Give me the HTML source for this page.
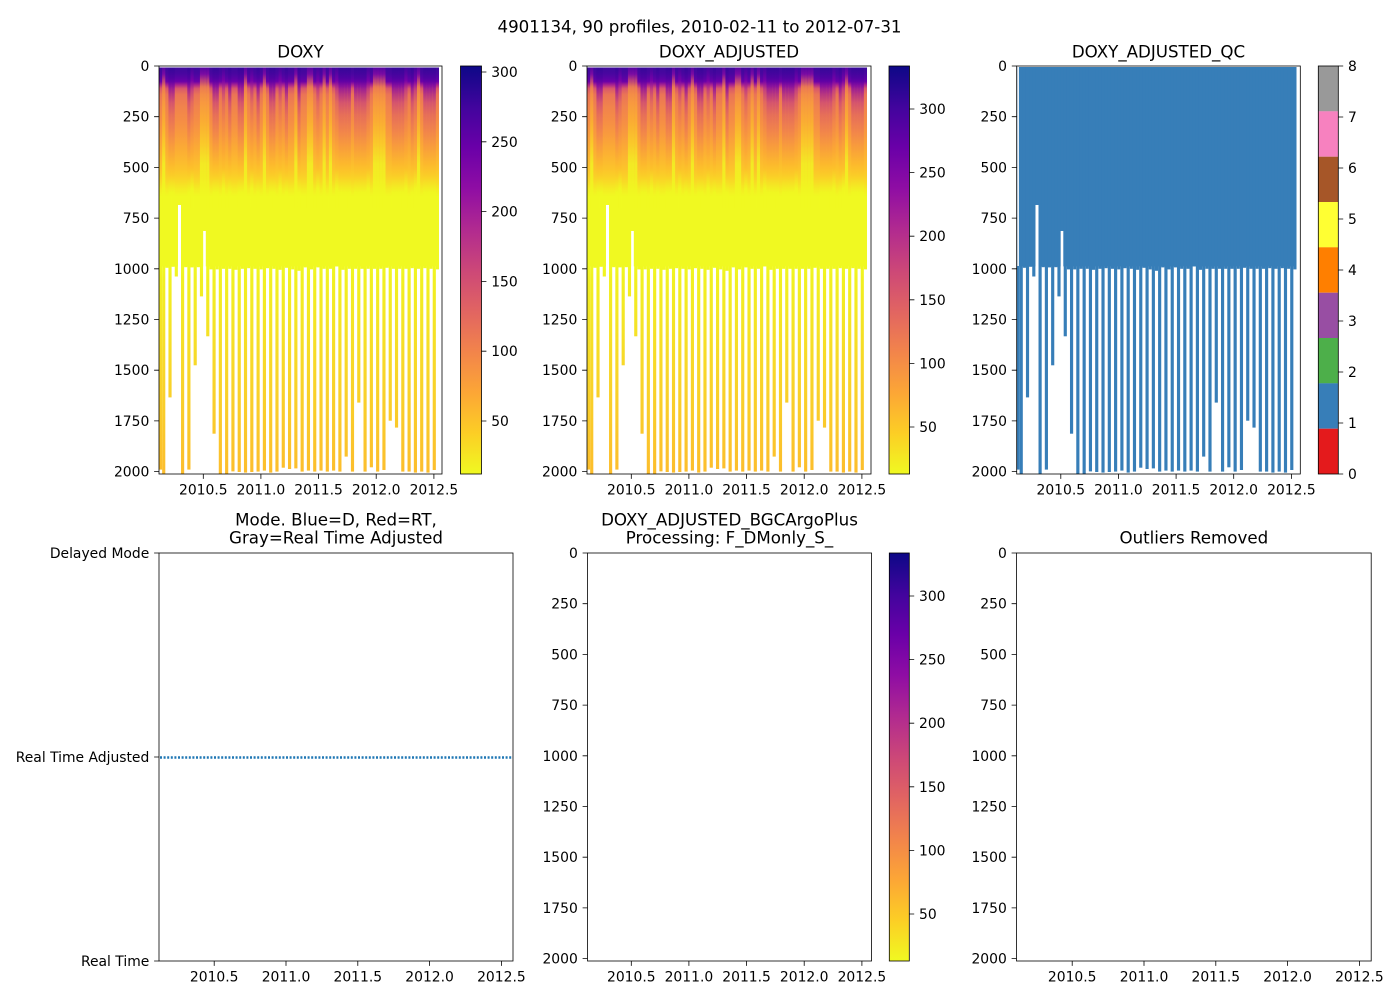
<!DOCTYPE html>
<html><head><meta charset="utf-8"><style>
html,body{margin:0;padding:0;background:#fff}
svg{display:block}
text{font-family:"DejaVu Sans","Liberation Sans",sans-serif;fill:#000}
.t{font-size:13.9px}
.h{font-size:16.67px}
</style></head><body>
<svg width="1400" height="1000" viewBox="0 0 1400 1000" xmlns="http://www.w3.org/2000/svg" xmlns:xlink="http://www.w3.org/1999/xlink">
<defs>
<linearGradient id="gA" gradientUnits="userSpaceOnUse" x1="0" y1="66" x2="0" y2="474">
<stop offset="0" stop-color="#3a0a9b"/><stop offset="0.02" stop-color="#4a06a0"/><stop offset="0.038" stop-color="#6a00a8"/>
<stop offset="0.046" stop-color="#a8238f"/><stop offset="0.055" stop-color="#d9576b"/><stop offset="0.07" stop-color="#ea7456"/>
<stop offset="0.10" stop-color="#f1834c"/><stop offset="0.14" stop-color="#f68f44"/><stop offset="0.17" stop-color="#f99c3d"/>
<stop offset="0.20" stop-color="#fbaa35"/><stop offset="0.225" stop-color="#fcb631"/><stop offset="0.255" stop-color="#fcc52a"/>
<stop offset="0.28" stop-color="#f9d726"/><stop offset="0.30" stop-color="#f4eb23"/><stop offset="0.32" stop-color="#f0f921"/>
<stop offset="0.49" stop-color="#f0f921"/><stop offset="0.52" stop-color="#f1f121"/>
<stop offset="0.75" stop-color="#f8d629"/><stop offset="1" stop-color="#fcbd2c"/>
</linearGradient>
<linearGradient id="gB" gradientUnits="userSpaceOnUse" x1="0" y1="66" x2="0" y2="474">
<stop offset="0" stop-color="#2f0996"/><stop offset="0.03" stop-color="#4f02a2"/><stop offset="0.05" stop-color="#7a05a6"/>
<stop offset="0.07" stop-color="#a8238f"/><stop offset="0.09" stop-color="#cc4778"/><stop offset="0.12" stop-color="#e2665f"/>
<stop offset="0.16" stop-color="#ef7e50"/><stop offset="0.20" stop-color="#f89a3e"/><stop offset="0.24" stop-color="#fcb72d"/>
<stop offset="0.27" stop-color="#fbce27"/><stop offset="0.29" stop-color="#f5e624"/><stop offset="0.31" stop-color="#f0f921"/>
<stop offset="1" stop-color="#f0f921"/>
</linearGradient>
<linearGradient id="gC" gradientUnits="userSpaceOnUse" x1="0" y1="66" x2="0" y2="474">
<stop offset="0" stop-color="#5402a3"/><stop offset="0.02" stop-color="#8d0da4"/><stop offset="0.035" stop-color="#d35271"/>
<stop offset="0.05" stop-color="#f48a47"/><stop offset="0.09" stop-color="#fba33a"/><stop offset="0.14" stop-color="#fcba2c"/>
<stop offset="0.19" stop-color="#fad626"/><stop offset="0.24" stop-color="#f0f921"/><stop offset="1" stop-color="#f0f921"/>
</linearGradient>
<linearGradient id="gD" gradientUnits="userSpaceOnUse" x1="0" y1="66" x2="0" y2="474">
<stop offset="0" stop-color="#41049d"/><stop offset="0.035" stop-color="#7e03a8"/><stop offset="0.06" stop-color="#c03a83"/>
<stop offset="0.09" stop-color="#e16462"/><stop offset="0.14" stop-color="#f2844b"/><stop offset="0.20" stop-color="#fba238"/>
<stop offset="0.25" stop-color="#fcc02a"/><stop offset="0.28" stop-color="#f6e524"/><stop offset="0.30" stop-color="#f0f921"/>
<stop offset="1" stop-color="#f0f921"/>
</linearGradient>
<linearGradient id="cb" x1="0" y1="0" x2="0" y2="1">
<stop offset="0" stop-color="#0d0887"/><stop offset="0.1" stop-color="#41049d"/><stop offset="0.2" stop-color="#6a00a8"/>
<stop offset="0.3" stop-color="#8f0da4"/><stop offset="0.4" stop-color="#b12a90"/><stop offset="0.5" stop-color="#cc4778"/>
<stop offset="0.6" stop-color="#e16462"/><stop offset="0.7" stop-color="#f2844b"/><stop offset="0.8" stop-color="#fca636"/>
<stop offset="0.9" stop-color="#fcce25"/><stop offset="1" stop-color="#f0f921"/>
</linearGradient>
<g id="bg">
<rect x="159" y="66" width="280" height="138.9"/>
<rect x="159" y="204" width="18.95" height="62.4"/>
<rect x="181.02" y="204" width="25.5" height="26.9"/>
<rect x="181.02" y="230" width="22.1" height="36.4"/>
<rect x="205.8" y="204" width="233.2" height="62.4"/>
</g>
<g id="shape">
<rect x="159" y="66" width="3.16" height="403.6"/><rect x="162.15" y="66" width="3.16" height="408"/>
<rect x="165.29" y="66" width="3.16" height="201.8"/><rect x="168.44" y="66" width="3.16" height="331.4"/>
<rect x="171.58" y="66" width="3.16" height="200.8"/><rect x="174.73" y="66" width="3.16" height="210.5"/>
<rect x="177.88" y="66" width="3.16" height="138.9"/><rect x="181.02" y="66" width="3.16" height="408"/>
<rect x="184.17" y="66" width="3.16" height="201.2"/><rect x="187.31" y="66" width="3.16" height="403.6"/>
<rect x="190.46" y="66" width="3.16" height="201.4"/><rect x="193.61" y="66" width="3.16" height="299.3"/>
<rect x="196.75" y="66" width="3.16" height="201.2"/><rect x="199.9" y="66" width="3.16" height="230.4"/>
<rect x="203.04" y="66" width="3.16" height="164.9"/><rect x="206.19" y="66" width="3.16" height="270.3"/>
<rect x="209.34" y="66" width="3.16" height="203.4"/><rect x="212.48" y="66" width="3.16" height="367.7"/>
<rect x="215.63" y="66" width="3.16" height="203.4"/><rect x="218.77" y="66" width="3.16" height="408"/>
<rect x="221.92" y="66" width="3.16" height="202.8"/><rect x="225.07" y="66" width="3.16" height="408"/>
<rect x="228.21" y="66" width="3.16" height="202.8"/><rect x="231.36" y="66" width="3.16" height="405.4"/>
<rect x="234.5" y="66" width="3.16" height="203.8"/><rect x="237.65" y="66" width="3.16" height="406"/>
<rect x="240.8" y="66" width="3.16" height="202.8"/><rect x="243.94" y="66" width="3.16" height="406.6"/>
<rect x="247.09" y="66" width="3.16" height="202.2"/><rect x="250.23" y="66" width="3.16" height="406"/>
<rect x="253.38" y="66" width="3.16" height="202.8"/><rect x="256.53" y="66" width="3.16" height="405.6"/>
<rect x="259.67" y="66" width="3.16" height="203.4"/><rect x="262.82" y="66" width="3.16" height="404.6"/>
<rect x="265.96" y="66" width="3.16" height="202.2"/><rect x="269.11" y="66" width="3.16" height="406.6"/>
<rect x="272.26" y="66" width="3.16" height="202.8"/><rect x="275.4" y="66" width="3.16" height="405.6"/>
<rect x="278.55" y="66" width="3.16" height="203.8"/><rect x="281.69" y="66" width="3.16" height="401.7"/>
<rect x="284.84" y="66" width="3.16" height="201.8"/><rect x="287.99" y="66" width="3.16" height="403"/>
<rect x="291.13" y="66" width="3.16" height="203.4"/><rect x="294.28" y="66" width="3.16" height="402.4"/>
<rect x="297.42" y="66" width="3.16" height="204.8"/><rect x="300.57" y="66" width="3.16" height="405.6"/>
<rect x="303.72" y="66" width="3.16" height="201.4"/><rect x="306.86" y="66" width="3.16" height="404.6"/>
<rect x="310.01" y="66" width="3.16" height="203.4"/><rect x="313.15" y="66" width="3.16" height="405.6"/>
<rect x="316.3" y="66" width="3.16" height="201.4"/><rect x="319.45" y="66" width="3.16" height="404.6"/>
<rect x="322.59" y="66" width="3.16" height="202.8"/><rect x="325.74" y="66" width="3.16" height="405.6"/>
<rect x="328.88" y="66" width="3.16" height="202.8"/><rect x="332.03" y="66" width="3.16" height="404.6"/>
<rect x="335.18" y="66" width="3.16" height="200.4"/><rect x="338.32" y="66" width="3.16" height="405.6"/>
<rect x="341.47" y="66" width="3.16" height="203.8"/><rect x="344.61" y="66" width="3.16" height="390.6"/>
<rect x="347.76" y="66" width="3.16" height="202.8"/><rect x="350.91" y="66" width="3.16" height="405.6"/>
<rect x="354.05" y="66" width="3.16" height="202.8"/><rect x="357.2" y="66" width="3.16" height="336.6"/>
<rect x="360.34" y="66" width="3.16" height="202.8"/><rect x="363.49" y="66" width="3.16" height="405.6"/>
<rect x="366.64" y="66" width="3.16" height="202.8"/><rect x="369.78" y="66" width="3.16" height="401.3"/>
<rect x="372.93" y="66" width="3.16" height="202.8"/><rect x="376.07" y="66" width="3.16" height="405.6"/>
<rect x="379.22" y="66" width="3.16" height="202.8"/><rect x="382.37" y="66" width="3.16" height="404"/>
<rect x="385.51" y="66" width="3.16" height="201.8"/><rect x="388.66" y="66" width="3.16" height="354.7"/>
<rect x="391.8" y="66" width="3.16" height="202.8"/><rect x="394.95" y="66" width="3.16" height="361.6"/>
<rect x="398.1" y="66" width="3.16" height="202.8"/><rect x="401.24" y="66" width="3.16" height="405.6"/>
<rect x="404.39" y="66" width="3.16" height="202.8"/><rect x="407.53" y="66" width="3.16" height="405.6"/>
<rect x="410.68" y="66" width="3.16" height="202.2"/><rect x="413.83" y="66" width="3.16" height="406.6"/>
<rect x="416.97" y="66" width="3.16" height="202.8"/><rect x="420.12" y="66" width="3.16" height="405.6"/>
<rect x="423.26" y="66" width="3.16" height="202.2"/><rect x="426.41" y="66" width="3.16" height="406.6"/>
<rect x="429.56" y="66" width="3.16" height="202.8"/><rect x="432.7" y="66" width="3.16" height="404"/>
<rect x="435.85" y="66" width="3.16" height="203.4"/>
</g>
<g id="tex" opacity="0.75">
<g fill="url(#gB)">
<rect x="168.44" y="66" width="3.16" height="142"/><rect x="171.58" y="66" width="3.16" height="142"/>
<rect x="187.31" y="66" width="3.16" height="142"/><rect x="212.48" y="66" width="3.16" height="142"/>
<rect x="215.63" y="66" width="3.16" height="142"/><rect x="228.21" y="66" width="3.16" height="142"/>
<rect x="237.65" y="66" width="3.16" height="142"/><rect x="240.8" y="66" width="3.16" height="142"/>
<rect x="256.53" y="66" width="3.16" height="142"/><rect x="269.11" y="66" width="3.16" height="142"/>
<rect x="272.26" y="66" width="3.16" height="142"/><rect x="284.84" y="66" width="3.16" height="142"/>
<rect x="297.42" y="66" width="3.16" height="142"/><rect x="338.32" y="66" width="3.16" height="142"/>
<rect x="341.47" y="66" width="3.16" height="142"/><rect x="344.61" y="66" width="3.16" height="142"/>
<rect x="347.76" y="66" width="3.16" height="142"/><rect x="354.05" y="66" width="3.16" height="142"/>
<rect x="357.2" y="66" width="3.16" height="142"/><rect x="360.34" y="66" width="3.16" height="142"/>
<rect x="363.49" y="66" width="3.16" height="142"/><rect x="391.8" y="66" width="3.16" height="142"/>
<rect x="394.95" y="66" width="3.16" height="142"/><rect x="398.1" y="66" width="3.16" height="142"/>
<rect x="401.24" y="66" width="3.16" height="142"/><rect x="410.68" y="66" width="3.16" height="142"/>
<rect x="423.26" y="66" width="3.16" height="142"/><rect x="426.41" y="66" width="3.16" height="142"/>
<rect x="429.56" y="66" width="3.16" height="142"/><rect x="432.7" y="66" width="3.16" height="142"/>
</g>
<g fill="url(#gC)">
<rect x="162.15" y="66" width="3.16" height="142"/><rect x="199.9" y="66" width="3.16" height="142"/>
<rect x="203.04" y="66" width="3.16" height="142"/><rect x="206.19" y="66" width="3.16" height="142"/>
<rect x="243.94" y="66" width="3.16" height="142"/><rect x="262.82" y="66" width="3.16" height="142"/>
<rect x="294.28" y="66" width="3.16" height="142"/><rect x="306.86" y="66" width="3.16" height="142"/>
<rect x="310.01" y="66" width="3.16" height="142"/><rect x="322.59" y="66" width="3.16" height="142"/>
<rect x="328.88" y="66" width="3.16" height="142"/><rect x="372.93" y="66" width="3.16" height="142"/>
<rect x="376.07" y="66" width="3.16" height="142"/><rect x="379.22" y="66" width="3.16" height="142"/>
<rect x="382.37" y="66" width="3.16" height="142"/><rect x="416.97" y="66" width="3.16" height="142"/>
</g>
<g fill="url(#gD)">
<rect x="190.46" y="66" width="3.16" height="142"/><rect x="221.92" y="66" width="3.16" height="142"/>
<rect x="250.23" y="66" width="3.16" height="142"/><rect x="278.55" y="66" width="3.16" height="142"/>
<rect x="316.3" y="66" width="3.16" height="142"/><rect x="335.18" y="66" width="3.16" height="142"/>
<rect x="366.64" y="66" width="3.16" height="142"/><rect x="404.39" y="66" width="3.16" height="142"/>
<rect x="413.83" y="66" width="3.16" height="142"/>
</g>
</g>
</defs>

<!-- suptitle -->
<text class="h" x="699.5" y="32.5" text-anchor="middle">4901134, 90 profiles, 2010-02-11 to 2012-07-31</text>

<!-- ===== Panel 1: DOXY ===== -->
<text class="h" x="300.5" y="57.5" text-anchor="middle">DOXY</text>
<use xlink:href="#bg" fill="url(#gA)"/>
<use xlink:href="#shape" fill="url(#gA)"/>
<use xlink:href="#tex"/>
<rect x="159" y="66" width="280" height="1.5" fill="#fff"/>
<rect x="159" y="66" width="283" height="408" fill="none" stroke="#000" stroke-width="0.8"/>

<!-- Panel 2: DOXY_ADJUSTED -->
<text class="h" x="729" y="57.5" text-anchor="middle">DOXY_ADJUSTED</text>
<g transform="translate(428,0)">
<use xlink:href="#bg" fill="url(#gA)"/>
<use xlink:href="#shape" fill="url(#gA)"/>
<use xlink:href="#tex"/>
<rect x="159" y="66" width="280" height="1.5" fill="#fff"/>
</g>
<rect x="587" y="66" width="284" height="408" fill="none" stroke="#000" stroke-width="0.8"/>

<!-- Panel 3: QC -->
<text class="h" x="1158.5" y="57.5" text-anchor="middle">DOXY_ADJUSTED_QC</text>
<g transform="translate(857.5,0)" fill="#377eb8">
<use xlink:href="#bg"/>
<use xlink:href="#shape"/>
<rect x="159" y="66" width="280" height="1" fill="#fff"/>
</g>
<rect x="1017.3" y="66" width="1.6" height="200" fill="#fff"/>
<rect x="1016.7" y="66" width="283.6" height="408" fill="none" stroke="#000" stroke-width="0.8"/>

<!-- y ticks top row -->
<g stroke="#000" stroke-width="0.8">
<path d="M154.1 66H159M154.1 116.7H159M154.1 167.4H159M154.1 218.1H159M154.1 268.8H159M154.1 319.5H159M154.1 370.2H159M154.1 420.9H159M154.1 471.6H159"/>
<path d="M582.1 66H587M582.1 116.7H587M582.1 167.4H587M582.1 218.1H587M582.1 268.8H587M582.1 319.5H587M582.1 370.2H587M582.1 420.9H587M582.1 471.6H587"/>
<path d="M1011.8 66H1016.7M1011.8 116.7H1016.7M1011.8 167.4H1016.7M1011.8 218.1H1016.7M1011.8 268.8H1016.7M1011.8 319.5H1016.7M1011.8 370.2H1016.7M1011.8 420.9H1016.7M1011.8 471.6H1016.7"/>
<path d="M203.3 474V478.9M260.9 474V478.9M318.6 474V478.9M376.2 474V478.9M433.9 474V478.9"/>
<path d="M631.3 474V478.9M688.9 474V478.9M746.6 474V478.9M804.2 474V478.9M861.9 474V478.9"/>
<path d="M1060.8 474V478.9M1118.4 474V478.9M1176.1 474V478.9M1233.7 474V478.9M1291.4 474V478.9"/>
</g>
<g text-anchor="end">
<text class="t" x="149.3" y="71">0</text><text class="t" x="149.3" y="121.7">250</text><text class="t" x="149.3" y="172.4">500</text>
<text class="t" x="149.3" y="223.1">750</text><text class="t" x="149.3" y="273.8">1000</text><text class="t" x="149.3" y="324.5">1250</text>
<text class="t" x="149.3" y="375.2">1500</text><text class="t" x="149.3" y="425.9">1750</text><text class="t" x="149.3" y="476.6">2000</text>
<text class="t" x="577.3" y="71">0</text><text class="t" x="577.3" y="121.7">250</text><text class="t" x="577.3" y="172.4">500</text>
<text class="t" x="577.3" y="223.1">750</text><text class="t" x="577.3" y="273.8">1000</text><text class="t" x="577.3" y="324.5">1250</text>
<text class="t" x="577.3" y="375.2">1500</text><text class="t" x="577.3" y="425.9">1750</text><text class="t" x="577.3" y="476.6">2000</text>
<text class="t" x="1007" y="71">0</text><text class="t" x="1007" y="121.7">250</text><text class="t" x="1007" y="172.4">500</text>
<text class="t" x="1007" y="223.1">750</text><text class="t" x="1007" y="273.8">1000</text><text class="t" x="1007" y="324.5">1250</text>
<text class="t" x="1007" y="375.2">1500</text><text class="t" x="1007" y="425.9">1750</text><text class="t" x="1007" y="476.6">2000</text>
</g>
<g text-anchor="middle">
<text class="t" x="203.3" y="494.5">2010.5</text><text class="t" x="260.9" y="494.5">2011.0</text><text class="t" x="318.6" y="494.5">2011.5</text><text class="t" x="376.2" y="494.5">2012.0</text><text class="t" x="433.9" y="494.5">2012.5</text>
<text class="t" x="631.3" y="494.5">2010.5</text><text class="t" x="688.9" y="494.5">2011.0</text><text class="t" x="746.6" y="494.5">2011.5</text><text class="t" x="804.2" y="494.5">2012.0</text><text class="t" x="861.9" y="494.5">2012.5</text>
<text class="t" x="1060.8" y="494.5">2010.5</text><text class="t" x="1118.4" y="494.5">2011.0</text><text class="t" x="1176.1" y="494.5">2011.5</text><text class="t" x="1233.7" y="494.5">2012.0</text><text class="t" x="1291.4" y="494.5">2012.5</text>
</g>

<!-- colorbar 1 -->
<rect x="460.5" y="66" width="21" height="408" fill="url(#cb)" stroke="#000" stroke-width="0.8"/>
<path stroke="#000" stroke-width="0.8" d="M481.5 72H486.4M481.5 141.8H486.4M481.5 211.6H486.4M481.5 281.4H486.4M481.5 351.2H486.4M481.5 421H486.4"/>
<text class="t" x="491.2" y="77">300</text><text class="t" x="491.2" y="146.8">250</text><text class="t" x="491.2" y="216.6">200</text>
<text class="t" x="491.2" y="286.4">150</text><text class="t" x="491.2" y="356.2">100</text><text class="t" x="491.2" y="426">50</text>

<!-- colorbar 2 -->
<rect x="889" y="66" width="20.5" height="408" fill="url(#cb)" stroke="#000" stroke-width="0.8"/>
<path stroke="#000" stroke-width="0.8" d="M909.5 109H914.4M909.5 172.6H914.4M909.5 236.2H914.4M909.5 299.8H914.4M909.5 363.4H914.4M909.5 427H914.4"/>
<text class="t" x="919.2" y="114">300</text><text class="t" x="919.2" y="177.6">250</text><text class="t" x="919.2" y="241.2">200</text>
<text class="t" x="919.2" y="304.8">150</text><text class="t" x="919.2" y="368.4">100</text><text class="t" x="919.2" y="432">50</text>

<!-- colorbar 3 (QC) -->
<rect x="1318.3" y="66" width="20" height="45.4" fill="#999999"/>
<rect x="1318.3" y="111.3" width="20" height="45.4" fill="#f781bf"/>
<rect x="1318.3" y="156.7" width="20" height="45.4" fill="#a65628"/>
<rect x="1318.3" y="202" width="20" height="45.4" fill="#ffff33"/>
<rect x="1318.3" y="247.3" width="20" height="45.4" fill="#ff7f00"/>
<rect x="1318.3" y="292.7" width="20" height="45.4" fill="#984ea3"/>
<rect x="1318.3" y="338" width="20" height="45.4" fill="#4daf4a"/>
<rect x="1318.3" y="383.3" width="20" height="45.4" fill="#377eb8"/>
<rect x="1318.3" y="428.7" width="20" height="45.3" fill="#e41a1c"/>
<rect x="1318.3" y="66" width="20" height="408" fill="none" stroke="#000" stroke-width="0.8"/>
<path stroke="#000" stroke-width="0.8" d="M1338.3 66H1343.2M1338.3 117H1343.2M1338.3 168H1343.2M1338.3 219H1343.2M1338.3 270H1343.2M1338.3 321H1343.2M1338.3 372H1343.2M1338.3 423H1343.2M1338.3 474H1343.2"/>
<text class="t" x="1348" y="71">8</text><text class="t" x="1348" y="122">7</text><text class="t" x="1348" y="173">6</text>
<text class="t" x="1348" y="224">5</text><text class="t" x="1348" y="275">4</text><text class="t" x="1348" y="326">3</text>
<text class="t" x="1348" y="377">2</text><text class="t" x="1348" y="428">1</text><text class="t" x="1348" y="479">0</text>

<!-- ===== Bottom row ===== -->
<!-- Panel 4 -->
<text class="h" x="336" y="525.5" text-anchor="middle">Mode. Blue=D, Red=RT,</text>
<text class="h" x="336" y="543.5" text-anchor="middle">Gray=Real Time Adjusted</text>
<line x1="160" y1="757.5" x2="513" y2="757.5" stroke="#1f77b4" stroke-width="2.6" stroke-dasharray="2 1.6"/>
<rect x="159" y="553" width="354" height="408" fill="none" stroke="#000" stroke-width="0.8"/>
<path stroke="#000" stroke-width="0.8" d="M154.1 553H159M154.1 757H159M154.1 961H159M214.2 961V965.9M286 961V965.9M357.8 961V965.9M429.6 961V965.9M501.4 961V965.9"/>
<g text-anchor="end">
<text class="t" x="149.3" y="558">Delayed Mode</text>
<text class="t" x="149.3" y="762">Real Time Adjusted</text>
<text class="t" x="149.3" y="966">Real Time</text>
</g>
<g text-anchor="middle">
<text class="t" x="214.2" y="981.5">2010.5</text><text class="t" x="286" y="981.5">2011.0</text><text class="t" x="357.8" y="981.5">2011.5</text><text class="t" x="429.6" y="981.5">2012.0</text><text class="t" x="501.4" y="981.5">2012.5</text>
</g>

<!-- Panel 5 -->
<text class="h" x="729.5" y="525.5" text-anchor="middle">DOXY_ADJUSTED_BGCArgoPlus</text>
<text class="h" x="729.5" y="543.5" text-anchor="middle">Processing: F_DMonly_S_</text>
<rect x="587.5" y="553" width="284" height="408" fill="none" stroke="#000" stroke-width="0.8"/>
<path stroke="#000" stroke-width="0.8" d="M582.6 553H587.5M582.6 603.7H587.5M582.6 654.4H587.5M582.6 705.1H587.5M582.6 755.8H587.5M582.6 806.5H587.5M582.6 857.2H587.5M582.6 907.9H587.5M582.6 958.6H587.5M631.3 961V965.9M688.9 961V965.9M746.6 961V965.9M804.2 961V965.9M861.9 961V965.9"/>
<g text-anchor="end">
<text class="t" x="577.8" y="558">0</text><text class="t" x="577.8" y="608.7">250</text><text class="t" x="577.8" y="659.4">500</text>
<text class="t" x="577.8" y="710.1">750</text><text class="t" x="577.8" y="760.8">1000</text><text class="t" x="577.8" y="811.5">1250</text>
<text class="t" x="577.8" y="862.2">1500</text><text class="t" x="577.8" y="912.9">1750</text><text class="t" x="577.8" y="963.6">2000</text>
</g>
<g text-anchor="middle">
<text class="t" x="631.3" y="981.5">2010.5</text><text class="t" x="688.9" y="981.5">2011.0</text><text class="t" x="746.6" y="981.5">2011.5</text><text class="t" x="804.2" y="981.5">2012.0</text><text class="t" x="861.9" y="981.5">2012.5</text>
</g>
<rect x="889.3" y="553" width="20" height="408" fill="url(#cb)" stroke="#000" stroke-width="0.8"/>
<path stroke="#000" stroke-width="0.8" d="M909.3 596H914.2M909.3 659.6H914.2M909.3 723.2H914.2M909.3 786.8H914.2M909.3 850.4H914.2M909.3 914H914.2"/>
<text class="t" x="919" y="601">300</text><text class="t" x="919" y="664.6">250</text><text class="t" x="919" y="728.2">200</text>
<text class="t" x="919" y="791.8">150</text><text class="t" x="919" y="855.4">100</text><text class="t" x="919" y="919">50</text>

<!-- Panel 6 -->
<text class="h" x="1193.8" y="543.5" text-anchor="middle">Outliers Removed</text>
<rect x="1016.5" y="553" width="354.7" height="408" fill="none" stroke="#000" stroke-width="0.8"/>
<path stroke="#000" stroke-width="0.8" d="M1011.6 553H1016.5M1011.6 603.7H1016.5M1011.6 654.4H1016.5M1011.6 705.1H1016.5M1011.6 755.8H1016.5M1011.6 806.5H1016.5M1011.6 857.2H1016.5M1011.6 907.9H1016.5M1011.6 958.6H1016.5M1072.2 961V965.9M1144 961V965.9M1215.8 961V965.9M1287.6 961V965.9M1359.4 961V965.9"/>
<g text-anchor="end">
<text class="t" x="1006.8" y="558">0</text><text class="t" x="1006.8" y="608.7">250</text><text class="t" x="1006.8" y="659.4">500</text>
<text class="t" x="1006.8" y="710.1">750</text><text class="t" x="1006.8" y="760.8">1000</text><text class="t" x="1006.8" y="811.5">1250</text>
<text class="t" x="1006.8" y="862.2">1500</text><text class="t" x="1006.8" y="912.9">1750</text><text class="t" x="1006.8" y="963.6">2000</text>
</g>
<g text-anchor="middle">
<text class="t" x="1072.2" y="981.5">2010.5</text><text class="t" x="1144" y="981.5">2011.0</text><text class="t" x="1215.8" y="981.5">2011.5</text><text class="t" x="1287.6" y="981.5">2012.0</text><text class="t" x="1359.4" y="981.5">2012.5</text>
</g>
</svg>
</body></html>
